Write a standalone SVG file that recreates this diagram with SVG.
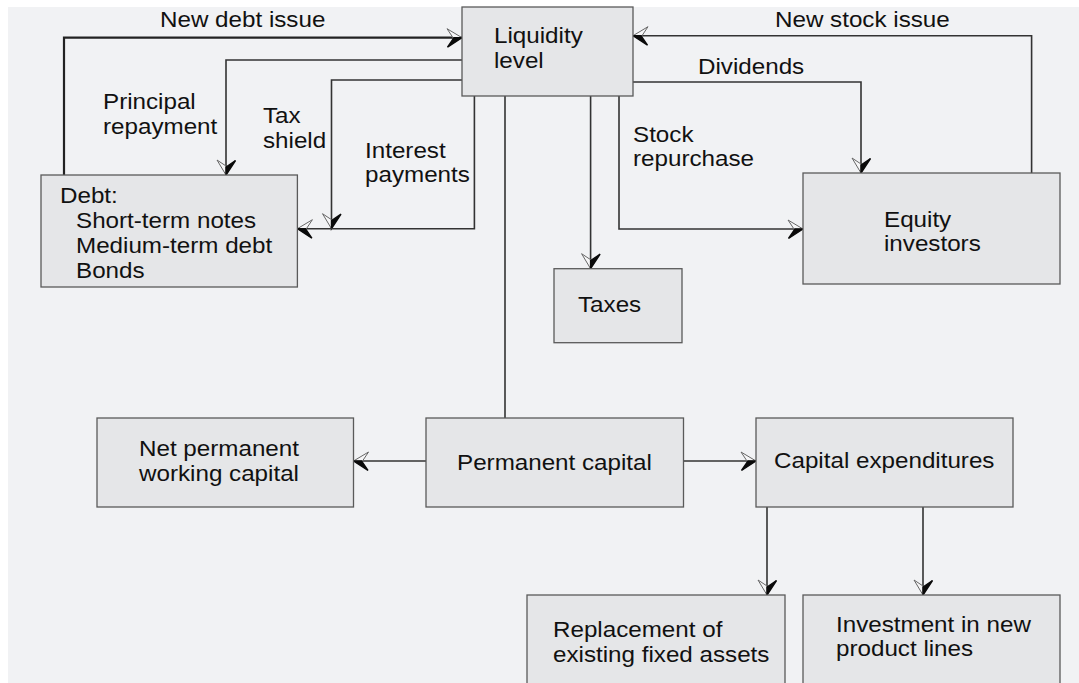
<svg xmlns="http://www.w3.org/2000/svg" width="1079" height="683" viewBox="0 0 1079 683">
  <defs>
    <style>
      .panel { fill: #f1f2f4; }
      .box { fill: #e5e6e8; stroke: #5a5a5a; stroke-width: 1.3; }
      .lbl { font-family: "Liberation Sans", Arial, Helvetica, sans-serif; font-size: 22px; fill: #111; }
      .wire { fill: none; stroke: #333; stroke-width: 1.6; }
      .wire.heavy { stroke: #222; stroke-width: 2.2; }
      .ah-solid { fill: #0a0a0a; stroke: #0a0a0a; stroke-width: 1.4; stroke-linejoin: miter; }
      .ah-open { fill: #f6f6f7; stroke: #666; stroke-width: 1; stroke-linejoin: miter; }
    </style>
    <!-- Barbed arrowhead: one barb solid, the other drawn in outline. -->
    <!-- headA: solid barb on the +y side of the travel direction -->
    <marker id="headA" markerUnits="userSpaceOnUse" orient="auto" refX="0" refY="0" markerWidth="20" markerHeight="20" overflow="visible">
      <polygon class="ah-open" points="0,0 -15,-9 -9,0"/>
      <polygon class="ah-solid" points="0,0 -14.5,9.5 -8,0"/>
    </marker>
    <!-- headB: solid barb on the -y side of the travel direction -->
    <marker id="headB" markerUnits="userSpaceOnUse" orient="auto" refX="0" refY="0" markerWidth="20" markerHeight="20" overflow="visible">
      <polygon class="ah-open" points="0,0 -15,9 -9,0"/>
      <polygon class="ah-solid" points="0,0 -14.5,-9.5 -8,0"/>
    </marker>
  </defs>

  <rect class="panel" x="8" y="7" width="1071" height="676"/>

  <!-- connectors and their flow labels; labels are widened slightly with scale(1.1,1) -->
  <g id="connectors">
    <path class="wire heavy" d="M64,175 V37.7 H462" marker-end="url(#headA)"/>
    <path class="wire" d="M462,60 H226 V175" marker-end="url(#headB)"/>
    <path class="wire" d="M462,80 H331.5 V228.7" marker-end="url(#headB)"/>
    <path class="wire" d="M474.4,96 V228.7 H297.4" marker-end="url(#headB)"/>
    <path class="wire" d="M1031.6,173 V35.7 H633" marker-end="url(#headB)"/>
    <path class="wire" d="M633,82 H861 V173" marker-end="url(#headB)"/>
    <path class="wire" d="M619,96 V229 H803" marker-end="url(#headA)"/>
    <path class="wire" d="M590.6,96 V268.7" marker-end="url(#headB)"/>
    <path class="wire" d="M505,96 V418"/>
    <path class="wire" d="M426,461 H353.5" marker-end="url(#headB)"/>
    <path class="wire" d="M683.5,461 H756" marker-end="url(#headA)"/>
    <path class="wire" d="M767,507 V595" marker-end="url(#headB)"/>
    <path class="wire" d="M923,507 V595" marker-end="url(#headB)"/>

    <text class="lbl" transform="translate(160,27) scale(1.1,1)">New debt issue</text>
    <text class="lbl" transform="translate(775,27) scale(1.1,1)">New stock issue</text>
    <text class="lbl" transform="translate(698,74) scale(1.1,1)">Dividends</text>
    <text class="lbl" transform="translate(103,109) scale(1.1,1)">Principal</text>
    <text class="lbl" transform="translate(103,134) scale(1.1,1)">repayment</text>
    <text class="lbl" transform="translate(263,123) scale(1.1,1)">Tax</text>
    <text class="lbl" transform="translate(263,148) scale(1.1,1)">shield</text>
    <text class="lbl" transform="translate(365,158) scale(1.1,1)">Interest</text>
    <text class="lbl" transform="translate(365,182) scale(1.1,1)">payments</text>
    <text class="lbl" transform="translate(633,142) scale(1.1,1)">Stock</text>
    <text class="lbl" transform="translate(633,166) scale(1.1,1)">repurchase</text>
  </g>

  <g id="liquidity">
    <rect class="box" x="462" y="7" width="171" height="89"/>
    <text class="lbl" transform="translate(494,43) scale(1.1,1)">Liquidity</text>
    <text class="lbl" transform="translate(494,68) scale(1.1,1)">level</text>
  </g>

  <g id="debt">
    <rect class="box" x="41" y="175" width="256.4" height="112"/>
    <text class="lbl" transform="translate(60,203) scale(1.1,1)">Debt:</text>
    <text class="lbl" transform="translate(76,228) scale(1.1,1)">Short-term notes</text>
    <text class="lbl" transform="translate(76,253) scale(1.1,1)">Medium-term debt</text>
    <text class="lbl" transform="translate(76,278) scale(1.1,1)">Bonds</text>
  </g>

  <g id="taxes">
    <rect class="box" x="554" y="268.7" width="128" height="74"/>
    <text class="lbl" transform="translate(578,312) scale(1.1,1)">Taxes</text>
  </g>

  <g id="equity">
    <rect class="box" x="803" y="173" width="257" height="111"/>
    <text class="lbl" transform="translate(884,227) scale(1.1,1)">Equity</text>
    <text class="lbl" transform="translate(884,251) scale(1.1,1)">investors</text>
  </g>

  <g id="net-working-capital">
    <rect class="box" x="97" y="418" width="256.5" height="89"/>
    <text class="lbl" transform="translate(139,456) scale(1.1,1)">Net permanent</text>
    <text class="lbl" transform="translate(139,481) scale(1.1,1)">working capital</text>
  </g>

  <g id="permanent-capital">
    <rect class="box" x="426" y="418" width="257.5" height="89"/>
    <text class="lbl" transform="translate(457,470) scale(1.1,1)">Permanent capital</text>
  </g>

  <g id="capital-expenditures">
    <rect class="box" x="756" y="418" width="257" height="89"/>
    <text class="lbl" transform="translate(774,468) scale(1.1,1)">Capital expenditures</text>
  </g>

  <g id="replacement">
    <rect class="box" x="527" y="595" width="258" height="110"/>
    <text class="lbl" transform="translate(553,637) scale(1.1,1)">Replacement of</text>
    <text class="lbl" transform="translate(553,662) scale(1.1,1)">existing fixed assets</text>
  </g>

  <g id="new-product-lines">
    <rect class="box" x="803" y="595" width="257" height="110"/>
    <text class="lbl" transform="translate(836,632) scale(1.1,1)">Investment in new</text>
    <text class="lbl" transform="translate(836,656) scale(1.1,1)">product lines</text>
  </g>
</svg>
